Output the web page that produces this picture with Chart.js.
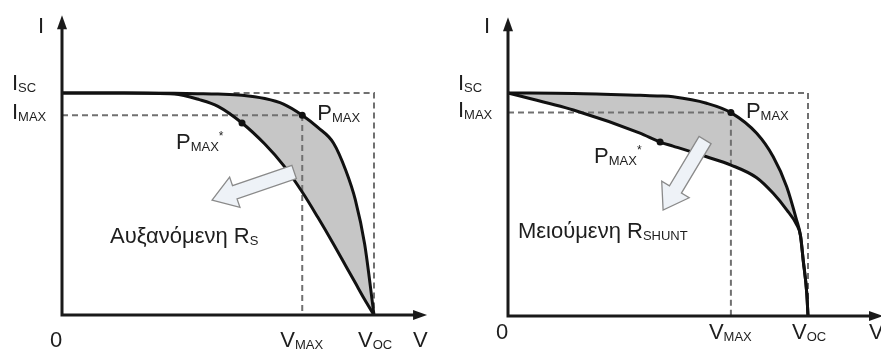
<!DOCTYPE html>
<html>
<head>
<meta charset="utf-8">
<script src="https://cdn.jsdelivr.net/npm/chart.js@4.4.0/dist/chart.umd.min.js"></script>
<style>
body { margin:0; background:#fff; width:881px; height:351px; overflow:hidden; position:relative; }
.panel { position:absolute; top:0; height:351px; }
</style>
</head>
<body>
<div class="panel" style="left:0;width:440px"><canvas id="chartRs" width="440" height="351"></canvas></div>
<div class="panel" style="left:440px;width:441px"><canvas id="chartShunt" width="441" height="351"></canvas></div>
<script>
// values are normalised: V / Voc and I / Isc
var V_OC = 1.0;
var I_SC = 1.0;

// left panel - increasing series resistance
var rs_v     = [0, 0.2, 0.36, 0.44, 0.5, 0.577, 0.65, 0.71, 0.77, 0.82, 0.87, 0.91, 0.94, 0.97, 1.0];
var rs_ideal = [1.0, 1.0, 0.999, 0.997, 0.995, 0.99, 0.975, 0.95, 0.90, 0.845, 0.775, 0.65, 0.52, 0.32, 0];
var rs_high  = [1.0, 1.0, 0.995, 0.97, 0.94, 0.865, 0.77, 0.674, 0.554, 0.44, 0.32, 0.22, 0.145, 0.07, 0];
var rs_vmax = 0.77, rs_imax = 0.90;
var rs_pmax2 = [0.577, 0.865];

// right panel - decreasing shunt resistance
var sh_v     = [0, 0.218, 0.44, 0.507, 0.55, 0.662, 0.743, 0.829, 0.884, 0.929, 0.962, 0.975, 0.984, 0.996, 1.0];
var sh_ideal = [1.0, 0.998, 0.99, 0.987, 0.983, 0.954, 0.912, 0.819, 0.714, 0.58, 0.43, 0.36, 0.25, 0.10, 0];
var sh_low   = [1.0, 0.924, 0.82, 0.78, 0.762, 0.714, 0.677, 0.62, 0.55, 0.476, 0.41, 0.36, 0.25, 0.10, 0];
var sh_vmax = 0.743, sh_imax = 0.912;
var sh_pmax2 = [0.507, 0.78];

var FONT = '"Liberation Sans", Arial, sans-serif';

function pts(xs, ys) {
    return xs.map(function (x, i) { return { x: x, y: ys[i] }; });
}

// main letter + subscript (+ optional star)
function subText(ctx, x, y, main, sub, star) {
    ctx.font = '22px ' + FONT;
    ctx.fillText(main, x, y);
    var w = ctx.measureText(main).width;
    ctx.font = '13px ' + FONT;
    ctx.fillText(sub, x + w, y + 2);
    if (star) {
        var w2 = ctx.measureText(sub).width;
        ctx.font = '12px ' + FONT;
        ctx.fillText('*', x + w + w2, y - 9);
    }
}

function fatArrow(ctx, x1, y1, x2, y2) {
    var dx = x2 - x1, dy = y2 - y1;
    var len = Math.sqrt(dx * dx + dy * dy);
    var ux = dx / len, uy = dy / len;
    var nx = -uy, ny = ux;
    var hw = 7, hh = 16, hl = 24;
    var bx = x2 - ux * hl, by = y2 - uy * hl;
    ctx.beginPath();
    ctx.moveTo(x1 + nx * hw, y1 + ny * hw);
    ctx.lineTo(bx + nx * hw, by + ny * hw);
    ctx.lineTo(bx + nx * hh, by + ny * hh);
    ctx.lineTo(x2, y2);
    ctx.lineTo(bx - nx * hh, by - ny * hh);
    ctx.lineTo(bx - nx * hw, by - ny * hw);
    ctx.lineTo(x1 - nx * hw, y1 - ny * hw);
    ctx.closePath();
    ctx.fillStyle = '#eef2f7';
    ctx.fill();
    ctx.lineWidth = 1.3;
    ctx.strokeStyle = '#8a8a8a';
    ctx.stroke();
}

var diagram = {
    id: 'diagram',
    afterDatasetsDraw: function (chart) {
        var p = chart.options.plugins.diagram;
        var ctx = chart.ctx, xs = chart.scales.x, ys = chart.scales.y;
        var x0 = xs.getPixelForValue(0), y0 = ys.getPixelForValue(0);
        var xe = xs.getPixelForValue(p.xEnd), yt = ys.getPixelForValue(p.yEnd);
        ctx.save();
        ctx.strokeStyle = '#1a1a1a';
        ctx.fillStyle = '#1a1a1a';
        ctx.lineWidth = 3;
        ctx.beginPath();
        ctx.moveTo(x0, yt + 10);
        ctx.lineTo(x0, y0);
        ctx.lineTo(xe - 10, y0);
        ctx.stroke();
        ctx.beginPath();
        ctx.moveTo(x0, yt); ctx.lineTo(x0 - 5, yt + 14); ctx.lineTo(x0 + 5, yt + 14);
        ctx.closePath(); ctx.fill();
        ctx.beginPath();
        ctx.moveTo(xe, y0); ctx.lineTo(xe - 14, y0 - 5); ctx.lineTo(xe - 14, y0 + 5);
        ctx.closePath(); ctx.fill();
        fatArrow(ctx, xs.getPixelForValue(p.arrow[0]), ys.getPixelForValue(p.arrow[1]),
            xs.getPixelForValue(p.arrow[2]), ys.getPixelForValue(p.arrow[3]));
        ctx.restore();
    },
    afterDraw: function (chart) {
        var p = chart.options.plugins.diagram;
        var ctx = chart.ctx, xs = chart.scales.x, ys = chart.scales.y;
        var x0 = xs.getPixelForValue(0), y0 = ys.getPixelForValue(0);
        var lb = y0 + p.xLabelGap;
        ctx.save();
        ctx.fillStyle = '#1e1e1e';
        ctx.textBaseline = 'alphabetic';
        ctx.textAlign = 'left';
        ctx.font = '22px ' + FONT;
        ctx.fillText('I', x0 - 24, 33);
        ctx.fillText('0', x0 - 12, lb);
        ctx.fillText('V', xs.getPixelForValue(p.xEnd) - 14, lb);
        subText(ctx, x0 - 50, ys.getPixelForValue(I_SC) - 3, 'I', 'SC');
        subText(ctx, x0 - 50, ys.getPixelForValue(p.imax) + 4, 'I', 'MAX');
        subText(ctx, xs.getPixelForValue(p.vmax) - 22, lb, 'V', 'MAX');
        subText(ctx, xs.getPixelForValue(V_OC) - 16, lb, 'V', 'OC');
        subText(ctx, xs.getPixelForValue(p.vmax) + 15, ys.getPixelForValue(p.imax) + 5, 'P', 'MAX');
        subText(ctx, xs.getPixelForValue(p.pmax2[0]) - 66, ys.getPixelForValue(p.pmax2[1]) + p.starGap, 'P', 'MAX', true);
        var tx = xs.getPixelForValue(p.note[0]), ty = ys.getPixelForValue(p.note[1]);
        ctx.font = '22px ' + FONT;
        ctx.fillText(p.noteText, tx, ty);
        var w = ctx.measureText(p.noteText + ' ').width;
        subText(ctx, tx + w, ty, 'R', p.noteSub);
        ctx.restore();
    }
};

function buildChart(id, v, ideal, worse, vmax, imax, pmax2, extra, pad) {
    var curve = { borderColor: '#111', borderWidth: 3, pointRadius: 0, cubicInterpolationMode: 'monotone', clip: false };
    var dash = { borderColor: '#707070', borderWidth: 2, borderDash: [6, 4], pointRadius: 0, fill: false, clip: false, tension: 0 };
    new Chart(document.getElementById(id), {
        type: 'line',
        data: {
            datasets: [
                { data: [{ x: vmax, y: imax }, { x: pmax2[0], y: pmax2[1] }], showLine: false, pointRadius: 3.5,
                  pointBackgroundColor: '#111', pointBorderWidth: 0, clip: false },
                Object.assign({ data: pts(v, ideal), fill: false }, curve),
                Object.assign({ data: pts(v, worse), fill: '-1', backgroundColor: '#c6c6c6' }, curve),
                Object.assign({ data: [{ x: 0, y: imax }, { x: vmax, y: imax }, { x: vmax, y: 0 }] }, dash),
                Object.assign({ data: [{ x: extra.boxFrom, y: I_SC }, { x: V_OC, y: I_SC }, { x: V_OC, y: 0 }] }, dash)
            ]
        },
        options: {
            responsive: false,
            animation: false,
            events: [],
            layout: { padding: pad },
            scales: {
                x: { type: 'linear', min: 0, max: V_OC, display: false },
                y: { type: 'linear', min: 0, max: I_SC, display: false }
            },
            plugins: {
                legend: { display: false },
                tooltip: { enabled: false },
                filler: { drawTime: 'beforeDatasetsDraw' },
                diagram: Object.assign({ vmax: vmax, imax: imax, pmax2: pmax2 }, extra)
            }
        },
        plugins: [diagram]
    });
}

buildChart('chartRs', rs_v, rs_ideal, rs_high, rs_vmax, rs_imax, rs_pmax2, {
    boxFrom: 0.55, xEnd: 1.17, yEnd: 1.35, xLabelGap: 32, starGap: 26,
    arrow: [0.744, 0.644, 0.481, 0.518],
    note: [0.154, 0.324], noteText: 'Αυξανόμενη', noteSub: 'S'
}, { left: 62, right: 66, top: 93, bottom: 36 });

buildChart('chartShunt', sh_v, sh_ideal, sh_low, sh_vmax, sh_imax, sh_pmax2, {
    boxFrom: 0.6, xEnd: 1.25, yEnd: 1.34, xLabelGap: 23, starGap: 21,
    arrow: [0.657, 0.789, 0.517, 0.475],
    note: [0.033, 0.35], noteText: 'Μειούμενη', noteSub: 'SHUNT'
}, { left: 68, right: 73, top: 93, bottom: 35 });
</script>
</body>
</html>
